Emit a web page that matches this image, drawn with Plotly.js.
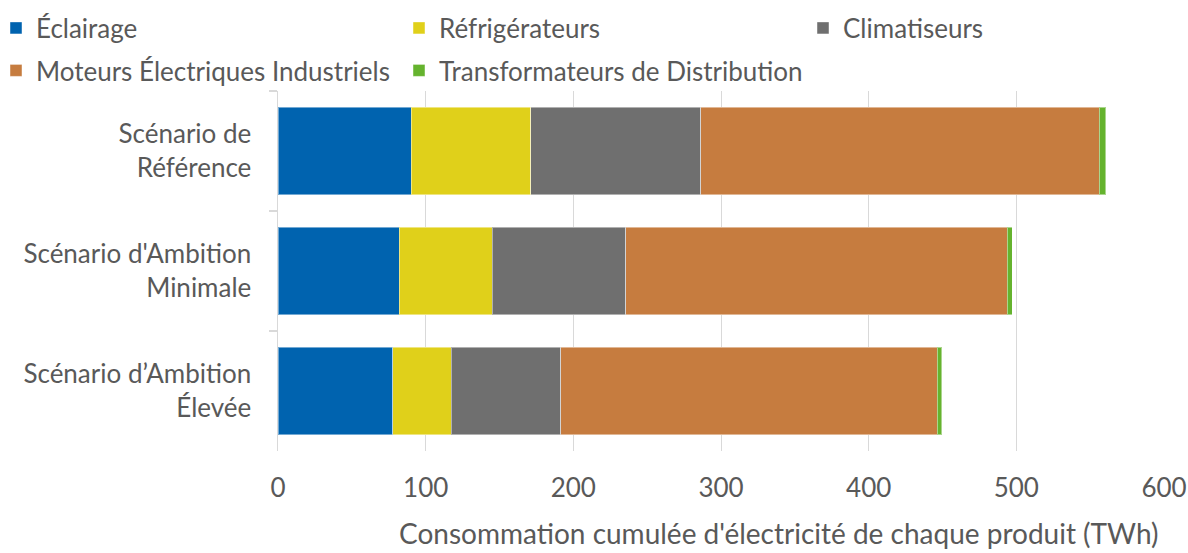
<!DOCTYPE html>
<html><head><meta charset="utf-8">
<script src="https://cdn.plot.ly/plotly-3.0.1.min.js"></script>
<style>html,body{margin:0;padding:0;background:#fff;}#chart{width:1188px;height:553px;}</style>
</head><body><div id="chart"></div>
<script>
const scenarios = ["Scénario de<br>Référence", "Scénario d'Ambition<br>Minimale", "Scénario d’Ambition<br>Élevée"];
const eclairage = [90.4, 82.0, 77.6];
const refrigerateurs = [80.6, 63.0, 39.7];
const climatiseurs = [115.4, 90.6, 74.3];
const moteurs = [269.8, 258.1, 254.9];
const transformateurs = [4.5, 3.4, 2.9];
const xTicks = [0, 100, 200, 300, 400, 500, 600];
const xTitle = "Consommation cumulée d'électricité de chaque produit (TWh)";

const FONT = "Lato";
const FS = 26;
const TXT = "#595959";
const L = 278, R = 24, T = 91, B = 102, W = 1188, H = 553;
const PW = W - L - R, PH = H - T - B;
function tr(name, vals, color, legend) {
  return {type: "bar", orientation: "h", name: name, y: scenarios, x: vals,
    marker: {color: color, line: {color: "rgba(255,255,255,0.45)", width: 1}},
    legend: legend, hoverinfo: "x+name"};
}
const data = [
  tr("Éclairage", eclairage, "#0063AF", "legend"),
  tr("Réfrigérateurs", refrigerateurs, "#E0D01A", "legend2"),
  tr("Climatiseurs", climatiseurs, "#6F6F6F", "legend3"),
  tr("Moteurs Électriques Industriels", moteurs, "#C67C3F", "legend4"),
  tr("Transformateurs de Distribution", transformateurs, "#65B32E", "legend5")
];
// legend positions: text left edge (px) and row centre (px)
function leg(textLeft, rowY) {
  return {orientation: "h", xref: "paper", yref: "container", xanchor: "left", yanchor: "middle",
    x: (textLeft - 40 - L) / PW, y: 1 - rowY / H,
    font: {family: FONT, size: FS, color: TXT}, itemwidth: 30, bgcolor: "rgba(0,0,0,0)",
    borderwidth: 0};
}
const layout = {
  width: W, height: H,
  margin: {l: L, r: R, t: T, b: B, autoexpand: false},
  paper_bgcolor: "#fff", plot_bgcolor: "#fff",
  barmode: "stack", bargap: 0.27,
  font: {family: FONT, color: TXT},
  xaxis: {range: [0, 600], tickvals: xTicks, ticktext: xTicks.map(String), showgrid: true, gridcolor: "#D9D9D9", gridwidth: 1,
    zeroline: false, showline: false, ticks: "", tickfont: {family: FONT, size: FS, color: TXT}, ticklabelstandoff: 19,
    fixedrange: true, automargin: false},
  yaxis: {type: "category", autorange: "reversed", showline: true, linecolor: "#D9D9D9", linewidth: 1.5,
    ticks: "outside", tickson: "boundaries", ticklen: 8, tickcolor: "#D9D9D9", tickwidth: 1.5,
    showgrid: false, tickfont: {family: FONT, size: FS, color: TXT}, ticklabelstandoff: 20, fixedrange: true, automargin: false},
  annotations: [{text: xTitle, xref: "paper", yref: "paper", x: (779 - L) / PW, y: -(533 - (T + PH)) / PH,
    xanchor: "center", yanchor: "middle", showarrow: false, font: {family: FONT, size: 28, color: TXT}}],
  legend: leg(36, 28),
  legend2: leg(439, 28),
  legend3: leg(843, 28),
  legend4: leg(36, 70.5),
  legend5: leg(439, 70.5),
  showlegend: true
};
Plotly.newPlot("chart", data, layout, {displayModeBar: false, staticPlot: true});
</script></body></html>
